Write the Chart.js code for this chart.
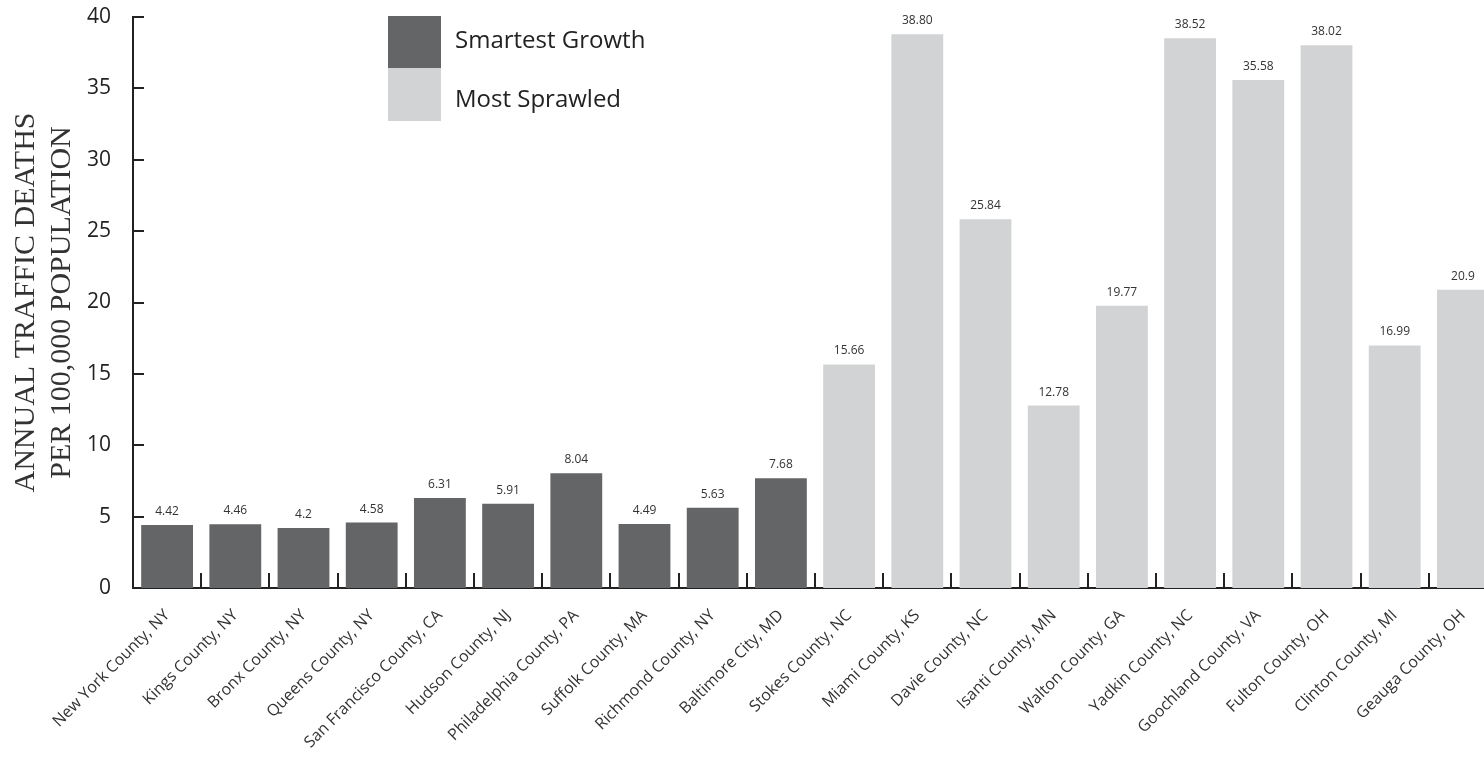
<!DOCTYPE html>
<html>
<head>
<meta charset="utf-8">
<script src="https://cdn.jsdelivr.net/npm/chart.js@4/dist/chart.umd.min.js"></script>
<style>
  html, body { margin: 0; padding: 0; overflow: hidden; background: #fff; }
  #wrap { position: relative; width: 1484px; height: 761px; overflow: hidden; }
  #chart { position: absolute; left: 0; top: 0; }
  .key { position: absolute; left: 388px; width: 53px; }
  .key-text { position: absolute; left: 455px; font-family: "Open Sans", sans-serif; font-size: 24px; color: #222; line-height: 28px; }
</style>
</head>
<body>
<div id="wrap">
  <canvas id="chart" width="1500" height="761"></canvas>
  <div class="key" style="top:16px;height:52px;background:#646567"></div>
  <div class="key" style="top:68px;height:53px;background:#d1d3d4"></div>
  <div class="key-text" style="top:25px">Smartest Growth</div>
  <div class="key-text" style="top:84px">Most Sprawled</div>
</div>
<script>
const counties = [
  'New York County, NY', 'Kings County, NY', 'Bronx County, NY', 'Queens County, NY',
  'San Francisco County, CA', 'Hudson County, NJ', 'Philadelphia County, PA', 'Suffolk County, MA',
  'Richmond County, NY', 'Baltimore City, MD', 'Stokes County, NC', 'Miami County, KS',
  'Davie County, NC', 'Isanti County, MN', 'Walton County, GA', 'Yadkin County, NC',
  'Goochland County, VA', 'Fulton County, OH', 'Clinton County, MI', 'Geauga County, OH'
];
const deaths = [4.42, 4.46, 4.2, 4.58, 6.31, 5.91, 8.04, 4.49, 5.63, 7.68,
                15.66, 38.80, 25.84, 12.78, 19.77, 38.52, 35.58, 38.02, 16.99, 20.9];
const valueText = ['4.42', '4.46', '4.2', '4.58', '6.31', '5.91', '8.04', '4.49', '5.63', '7.68',
                   '15.66', '38.80', '25.84', '12.78', '19.77', '38.52', '35.58', '38.02', '16.99', '20.9'];
const groups = ['smart', 'smart', 'smart', 'smart', 'smart', 'smart', 'smart', 'smart', 'smart', 'smart',
                'sprawl', 'sprawl', 'sprawl', 'sprawl', 'sprawl', 'sprawl', 'sprawl', 'sprawl', 'sprawl', 'sprawl'];
const yTicks = [0, 5, 10, 15, 20, 25, 30, 35, 40];

const groupColors = { smart: '#646567', sprawl: '#d1d3d4' };
const SANS = '"Open Sans", sans-serif';

// short ticks drawn inside the plot: on the y axis at each step, on the x axis between bars
const innerTicks = {
  id: 'innerTicks',
  afterDraw(chart) {
    const { ctx, chartArea, scales: { x, y } } = chart;
    ctx.save();
    ctx.strokeStyle = '#222';
    ctx.lineWidth = 2;
    ctx.beginPath();
    yTicks.forEach(v => {
      if (v === 0) return;
      const py = Math.round(y.getPixelForValue(v));
      ctx.moveTo(chartArea.left, py);
      ctx.lineTo(chartArea.left + 11, py);
    });
    for (let i = 0; i < counties.length - 1; i++) {
      const px = Math.round((x.getPixelForValue(i) + x.getPixelForValue(i + 1)) / 2);
      ctx.moveTo(px, chartArea.bottom);
      ctx.lineTo(px, chartArea.bottom - 15);
    }
    ctx.stroke();
    ctx.restore();
  }
};

// value printed above each bar
const barValues = {
  id: 'barValues',
  afterDatasetsDraw(chart) {
    const { ctx } = chart;
    const meta = chart.getDatasetMeta(0);
    ctx.save();
    ctx.font = '12px ' + SANS;
    ctx.fillStyle = '#333';
    ctx.textAlign = 'center';
    ctx.textBaseline = 'alphabetic';
    meta.data.forEach((bar, i) => {
      ctx.fillText(valueText[i], bar.x, bar.y - 10);
    });
    ctx.restore();
  }
};

new Chart(document.getElementById('chart'), {
  type: 'bar',
  data: {
    labels: counties,
    datasets: [{
      data: deaths,
      backgroundColor: groups.map(g => groupColors[g]),
      borderWidth: 0,
      barPercentage: 0.76,
      categoryPercentage: 1
    }]
  },
  options: {
    responsive: false,
    animation: false,
    layout: { padding: { top: 17, right: 3, left: 0, bottom: 0 } },
    plugins: {
      legend: { display: false },
      tooltip: { enabled: false }
    },
    scales: {
      x: {
        grid: { display: false, drawTicks: false },
        border: { display: true, color: '#222', width: 2 },
        ticks: {
          autoSkip: false,
          minRotation: 45,
          maxRotation: 45,
          padding: 18,
          color: '#333',
          font: { family: SANS, size: 16 }
        },
        afterFit(scale) { scale.height = 173; }
      },
      y: {
        min: 0,
        max: 40,
        grid: { display: false, drawTicks: false },
        border: { display: true, color: '#222', width: 2 },
        ticks: {
          stepSize: 5,
          padding: 22,
          color: '#222',
          font: { family: SANS, size: 21 }
        },
        title: {
          display: true,
          text: ['ANNUAL TRAFFIC DEATHS', 'PER 100,000 POPULATION'],
          color: '#333',
          font: { family: '"Liberation Serif", serif', size: 30, lineHeight: 1.17 },
          padding: { top: 9, bottom: 0 }
        },
        afterFit(scale) {
          scale.width = 133;
          // the top padding already leaves room for the "40" label
          scale.paddingTop = 0;
          scale.paddingBottom = 0;
        }
      }
    }
  },
  plugins: [innerTicks, barValues]
});
</script>
</body>
</html>
